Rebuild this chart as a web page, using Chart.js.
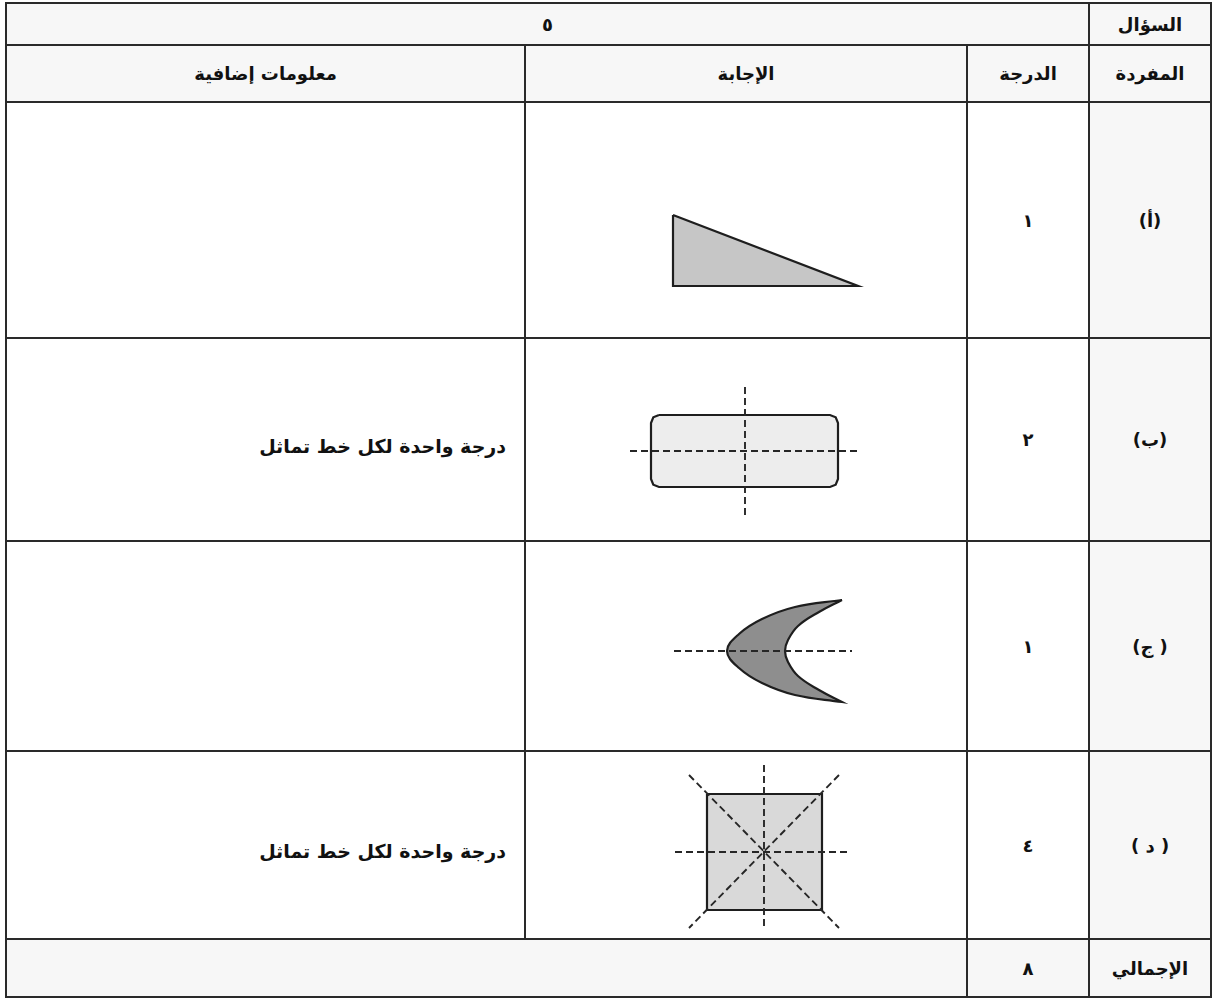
<!DOCTYPE html>
<html lang="ar">
<head>
<meta charset="utf-8">
<title>السؤال ٥</title>
<script src="https://cdn.jsdelivr.net/npm/chart.js@4.4.1/dist/chart.umd.min.js"></script>
<style>
    html, body { margin: 0; padding: 0; background: #fff; }
    body { width: 1215px; height: 1000px; position: relative; overflow: hidden; }
    table {
        position: absolute; left: 5px; top: 2px;
        width: 1205px; border-collapse: collapse; table-layout: fixed;
        font-family: "DejaVu Sans", sans-serif; font-weight: bold; font-size: 18px; color: #111;
    }
    td { border: 2px solid #2a2a2a; text-align: center; vertical-align: middle; padding: 0; }
    td.shade { background: #f7f7f7; }
    td.note { text-align: right; padding-right: 18px; font-size: 19px; padding-top: 12px; }
    td.answer { position: relative; }
    td.answer canvas { position: absolute; left: 0; top: 0; }
</style>
</head>
<body>
<table id="sheet" dir="rtl">
    <colgroup>
        <col style="width:122px"><col style="width:122px"><col style="width:442px"><col style="width:519px">
    </colgroup>
    <tbody id="rows"></tbody>
</table>

<script>
    // Table text
    const questionLabel = 'السؤال';
    const questionNumber = '٥';
    const headers = ['المفردة', 'الدرجة', 'الإجابة', 'معلومات إضافية'];
    const itemLabels = ['(أ)', '(ب)', '( ج)', '( د )'];
    const itemMarks = ['١', '٢', '١', '٤'];
    const itemNotes = ['', 'درجة واحدة لكل خط تماثل', '', 'درجة واحدة لكل خط تماثل'];
    const totalLabel = 'الإجمالي';
    const totalMark = '٨';
    const rowHeights = [42, 57, 236, 203, 210, 188, 58];

    // Shapes, in each answer cell's own units (x right, y down)
    const triangleOutline = [[147, 112], [147, 183], [332, 183], [147, 112]];

    const rectOutline = [[133, 76], [304, 76], [309.7, 78.3], [312, 84], [312, 140], [309.7, 145.7], [304, 148],
        [133, 148], [127.3, 145.7], [125, 140], [125, 84], [127.3, 78.3], [133, 76]];
    const rectAxisH = [[104, 112], [331, 112]];
    const rectAxisV = [[219, 48], [219, 178]];

    const moonOutline = [[316, 58], [269, 65], [236, 77], [213, 92], [201, 109], [213, 126], [236, 141],
        [269, 153], [316, 160], [316, 160], [293, 148], [272, 134], [262, 120], [259, 109], [262, 98],
        [272, 84], [293, 70], [316, 58]];
    const moonAxis = [[148, 109], [326, 109]];

    const squareOutline = [[181, 42], [296, 42], [296, 158], [181, 158], [181, 42]];
    const squareAxisH = [[149, 100], [324, 100]];
    const squareAxisV = [[238, 13], [238, 176]];
    const squareDiag1 = [[163, 23], [313, 176]];
    const squareDiag2 = [[313, 23], [163, 176]];

    var toPoints = function (arr) {
        return arr.map(p => ({ x: p[0], y: p[1] }));
    };

    var outline = function (arr, fillColor, tension) {
        return {
            data: toPoints(arr),
            order: 2,
            showLine: true,
            fill: 'shape',
            backgroundColor: fillColor,
            borderColor: '#1e1e1e',
            borderWidth: 2.2,
            pointRadius: 0,
            tension: tension || 0,
            borderJoinStyle: 'miter'
        };
    };

    // dashed lines of symmetry, drawn above the shape
    var axisLine = function (arr) {
        return {
            data: toPoints(arr),
            order: 1,
            showLine: true,
            fill: false,
            borderColor: '#262626',
            borderWidth: 1.9,
            borderDash: [7, 4],
            pointRadius: 0
        };
    };

    const answerShapes = [
        [outline(triangleOutline, '#c6c6c6')],
        [outline(rectOutline, '#ededed'), axisLine(rectAxisH), axisLine(rectAxisV)],
        [outline(moonOutline, '#8e8e8e', 0.4), axisLine(moonAxis)],
        [outline(squareOutline, '#d9d9d9'), axisLine(squareAxisH), axisLine(squareAxisV),
            axisLine(squareDiag1), axisLine(squareDiag2)]
    ];

    // Build the table
    const body = document.getElementById('rows');
    var addRow = function (h) {
        const tr = document.createElement('tr');
        tr.style.height = h + 'px';
        body.appendChild(tr);
        return tr;
    };
    var addCell = function (tr, text, cls, span) {
        const td = document.createElement('td');
        td.textContent = text;
        if (cls) td.className = cls;
        if (span) td.colSpan = span;
        tr.appendChild(td);
        return td;
    };

    let tr = addRow(rowHeights[0]);
    addCell(tr, questionLabel, 'shade');
    addCell(tr, questionNumber, 'shade', 3);

    tr = addRow(rowHeights[1]);
    headers.forEach(h => addCell(tr, h, 'shade'));

    const answerCells = [];
    itemLabels.forEach((label, i) => {
        const r = addRow(rowHeights[i + 2]);
        addCell(r, label, 'shade');
        addCell(r, itemMarks[i]);
        answerCells.push(addCell(r, '', 'answer'));
        addCell(r, itemNotes[i], 'note');
    });

    tr = addRow(rowHeights[6]);
    addCell(tr, totalLabel, 'shade');
    addCell(tr, totalMark, 'shade');
    addCell(tr, '', 'shade', 2);

    // Draw each answer shape on its own chart
    answerCells.forEach((cell, i) => {
        const w = cell.clientWidth, h = cell.clientHeight;
        const canvas = document.createElement('canvas');
        canvas.width = w;
        canvas.height = h;
        canvas.style.width = w + 'px';
        canvas.style.height = h + 'px';
        cell.appendChild(canvas);

        new Chart(canvas.getContext('2d'), {
            type: 'scatter',
            data: { datasets: answerShapes[i] },
            options: {
                responsive: false,
                animation: false,
                events: [],
                layout: { padding: 0 },
                plugins: { legend: { display: false }, tooltip: { enabled: false } },
                scales: {
                    x: { type: 'linear', min: 0, max: w, display: false },
                    y: { type: 'linear', min: 0, max: h, reverse: true, display: false }
                }
            }
        });
    });
</script>
</body>
</html>
